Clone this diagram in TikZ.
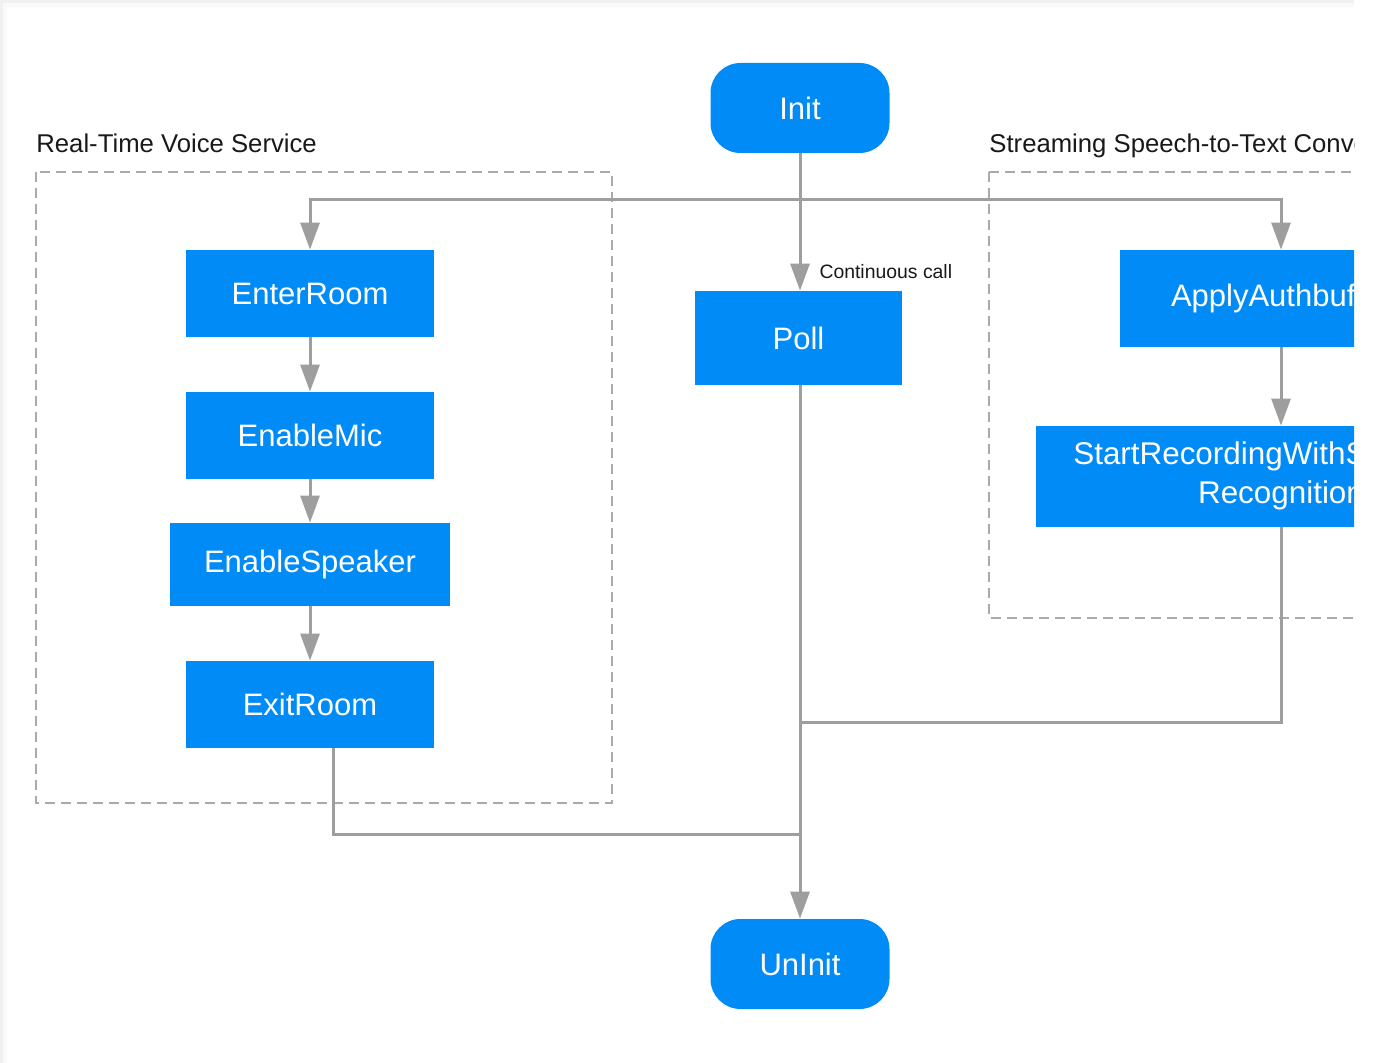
\documentclass[tikz,border=0pt]{standalone}
\usepackage{fontspec}
\setmainfont{Liberation Sans}
\usetikzlibrary{arrows.meta}
\definecolor{boxblue}{RGB}{0,139,246}
\definecolor{linegray}{RGB}{158,158,158}
\definecolor{dashgray}{RGB}{170,170,170}
\definecolor{txt}{RGB}{25,25,25}
\tikzset{
  blk/.style={fill=boxblue, text=white, inner sep=0pt, font=\fontsize{15.5}{19}\selectfont, align=center},
  term/.style={blk, rounded corners=15pt, minimum width=89.5pt, minimum height=45pt},
  conn/.style={draw=linegray, line width=1.5pt},
  arr/.style={conn, -{Triangle[length=13.5pt,width=9.5pt]}, shorten >=0pt},
  grp/.style={draw=dashgray, line width=1pt, dash pattern=on 5pt off 3pt},
  grplbl/.style={anchor=base west, text=txt, inner sep=0pt, font=\fontsize{12.85}{15}\selectfont},
}
\begin{document}
\begin{tikzpicture}[x=0.5pt,y=-0.5pt]
\useasboundingbox (0,0) rectangle (1375,1063);
\fill[white] (0,0) rectangle (1375,1063);
\fill[gray!12] (0,0) rectangle (1354,1063);
\fill[gray!5] (3,3) rectangle (1354,1063);
\fill[white] (7,7) rectangle (1354,1063);
\begin{scope}
\clip (7,7) rectangle (1354,1063);
% groups
\node[grplbl] (lblL) at (36,153) {Real-Time Voice Service};
\node[grplbl] (lblR) at (989,153) {Streaming Speech-to-Text Conversion};
\draw[grp] (36,172) rectangle (612,803);
\draw[grp] (989,172) rectangle (1500,618);
% nodes
\node[term] (Init) at (800,108) {Init};
\node[term] (UnInit) at (800,964) {UnInit};
\node[blk, minimum width=103.5pt, minimum height=47pt] (Poll) at (798.5,338) {Poll};
\node[blk, minimum width=124pt, minimum height=43.5pt] (Enter) at (310,293.5) {EnterRoom};
\node[blk, minimum width=124pt, minimum height=43.5pt] (Mic) at (310,435.5) {EnableMic};
\node[blk, minimum width=140pt, minimum height=41.5pt] (Spk) at (310,564.5) {EnableSpeaker};
\node[blk, minimum width=124pt, minimum height=43.5pt] (Exit) at (310,704.5) {ExitRoom};
\node[blk, minimum width=161pt, minimum height=48.5pt] (Apply) at (1281,298.5) {ApplyAuthbuffer};
\node[blk, minimum width=245pt, minimum height=50.5pt, font=\fontsize{15.7}{19.5}\selectfont] (Start) at (1281,476.5) {\strut StartRecordingWithStreaming\\Recognition\strut};
% coordinates
\coordinate (br) at (800,200);
\coordinate (j1) at (800,722);
\coordinate (j2) at (800,834);
% connectors
\draw[arr] (Init.south) -- (Init.south |- Poll.north) node[pos=0.86, right=9pt, anchor=west, text=txt, inner sep=0pt, font=\fontsize{9.7}{12}\selectfont] (cc) {Continuous call};
\draw[arr] (br) -| (Enter.north);
\draw[arr] (br) -| (Apply.north);
\draw[arr] (Enter.south) -- (Mic.north);
\draw[arr] (Mic.south) -- (Spk.north);
\draw[arr] (Spk.south) -- (Exit.north);
\draw[arr] (Apply.south) -- (Start.north);
\draw[arr] (Init.south |- Poll.south) -- (UnInit.north);
\draw[conn] (Start.south) |- (j1);
\draw[conn] ([xshift=11.5pt]Exit.south) |- (j2);
\end{scope}
\end{tikzpicture}
\end{document}
